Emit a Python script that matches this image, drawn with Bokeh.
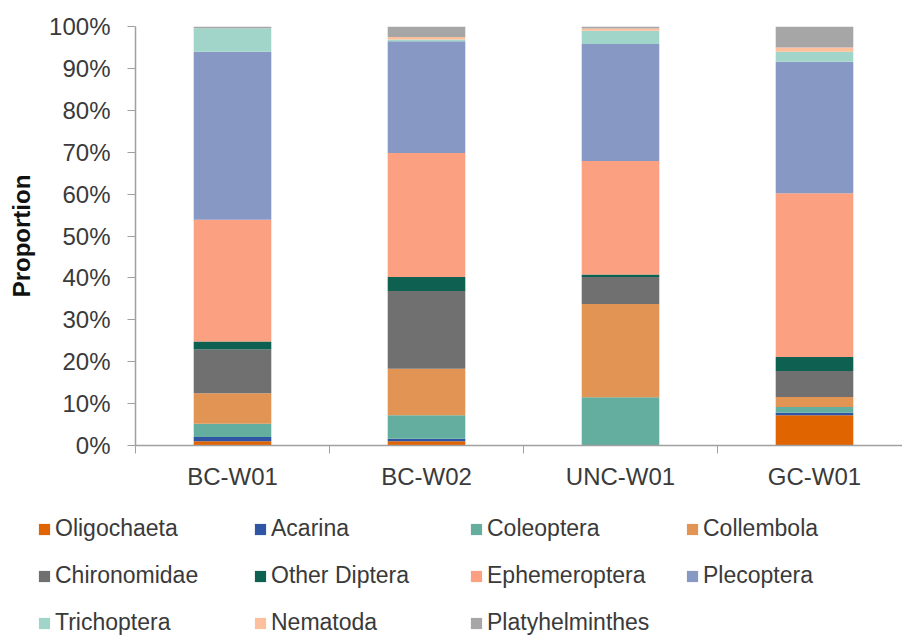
from bokeh.plotting import figure
from bokeh.layouts import column
from bokeh.models import (ColumnDataSource, Range1d, FixedTicker, PrintfTickFormatter,
                          Legend, LegendItem)
from bokeh.embed import file_html
from bokeh.resources import INLINE

sites = ["BC-W01", "BC-W02", "UNC-W01", "GC-W01"]
taxa = ["Oligochaeta", "Acarina", "Coleoptera", "Collembola", "Chironomidae",
        "Other Diptera", "Ephemeroptera", "Plecoptera", "Trichoptera",
        "Nematoda", "Platyhelminthes"]

oligochaeta = [1.0, 1.0, 0.0, 7.2]
acarina = [1.0, 0.6, 0.0, 0.6]
coleoptera = [3.2, 5.6, 11.5, 1.4]
collembola = [7.3, 11.1, 22.3, 2.4]
chironomidae = [10.4, 18.6, 6.4, 6.2]
other_diptera = [1.9, 3.3, 0.6, 3.3]
ephemeroptera = [29.1, 29.6, 27.1, 39.1]
plecoptera = [40.1, 26.7, 27.9, 31.4]
trichoptera = [5.6, 0.4, 3.2, 2.4]
nematoda = [0.0, 0.6, 0.5, 1.0]
platyhelminthes = [0.4, 2.5, 0.5, 5.0]

y_ticks = [0, 10, 20, 30, 40, 50, 60, 70, 80, 90, 100]

colors = ["#e06400", "#2f55a4", "#63ae9f", "#e19453", "#707070", "#0e6151",
          "#fca082", "#8898c4", "#a2d5c9", "#fdbf9c", "#a6a6a6"]

series = [oligochaeta, acarina, coleoptera, collembola, chironomidae,
          other_diptera, ephemeroptera, plecoptera, trichoptera, nematoda,
          platyhelminthes]

data = {"x": [i + 0.5 for i in range(len(sites))]}
for name, vals in zip(taxa, series):
    data[name] = vals
src = ColumnDataSource(data)

FONT = "Liberation Sans"
TXT = "#3a3a3a"
AX = "#a0a0a0"

p = figure(width=902, height=500, output_backend="svg", toolbar_location=None,
           x_range=Range1d(0, 767 / 194), y_range=Range1d(0, 100),
           min_border_left=135, min_border_right=0, min_border_top=26,
           min_border_bottom=55)
p.frame_align = False
p.outline_line_color = None
p.xgrid.visible = False
p.ygrid.visible = False

rs = p.vbar_stack(taxa, x="x", width=0.4, color=colors, line_color=None, source=src)

# y axis
p.yaxis.ticker = FixedTicker(ticks=y_ticks)
p.yaxis.formatter = PrintfTickFormatter(format="%d%%")
p.yaxis.minor_tick_line_color = None
p.yaxis.major_tick_in = 0
p.yaxis.major_tick_out = 8
p.yaxis.major_tick_line_color = AX
p.yaxis.axis_line_color = AX
p.yaxis.axis_line_width = 1.5
p.yaxis.major_label_text_font = FONT
p.yaxis.major_label_text_font_size = "24px"
p.yaxis.major_label_text_color = TXT
p.yaxis.major_label_standoff = 17
p.yaxis.axis_label = "Proportion"
p.yaxis.axis_label_text_font = FONT
p.yaxis.axis_label_text_font_size = "24px"
p.yaxis.axis_label_text_font_style = "bold"
p.yaxis.axis_label_text_color = "#111111"
p.yaxis.axis_label_standoff = 11

# x axis
p.xaxis.ticker = FixedTicker(ticks=data["x"], minor_ticks=[0, 1, 2, 3, 4])
p.xaxis.major_label_overrides = {x: s for x, s in zip(data["x"], sites)}
p.xaxis.major_tick_line_color = None
p.xaxis.major_tick_in = 0
p.xaxis.major_tick_out = 0
p.xaxis.minor_tick_in = 0
p.xaxis.minor_tick_out = 8
p.xaxis.minor_tick_line_color = AX
p.xaxis.axis_line_color = AX
p.xaxis.axis_line_width = 1.5
p.xaxis.major_label_text_font = FONT
p.xaxis.major_label_text_font_size = "24px"
p.xaxis.major_label_text_color = TXT
p.xaxis.major_label_standoff = 9

# legend panel below the chart (zero-width stacks outside its view: swatches only)
pl = figure(width=902, height=135, output_backend="svg", toolbar_location=None,
            x_range=Range1d(0, 767 / 194), y_range=Range1d(-300, -200),
            x_axis_location=None, y_axis_location=None,
            min_border_left=0, min_border_right=0, min_border_top=0,
            min_border_bottom=0)
pl.frame_align = False
pl.grid.visible = False
pl.outline_line_color = None
rl = pl.vbar_stack(taxa, x="x", width=0, color=colors, line_color=None, source=src)

items = [LegendItem(label=t, renderers=[r]) for t, r in zip(taxa, rl)]
leg = Legend(items=items, location=(37, -1), orientation="horizontal", ncols=4,
             padding=0, margin=0, spacing=20,
             glyph_width=14, glyph_height=14, label_height=26, label_width=178,
             label_standoff=4, border_line_color=None,
             background_fill_alpha=0,
             label_text_font=FONT, label_text_font_size="23px",
             label_text_color=TXT)
pl.add_layout(leg, "center")

open("out.html", "w").write(file_html(column(p, pl, spacing=0), INLINE))
